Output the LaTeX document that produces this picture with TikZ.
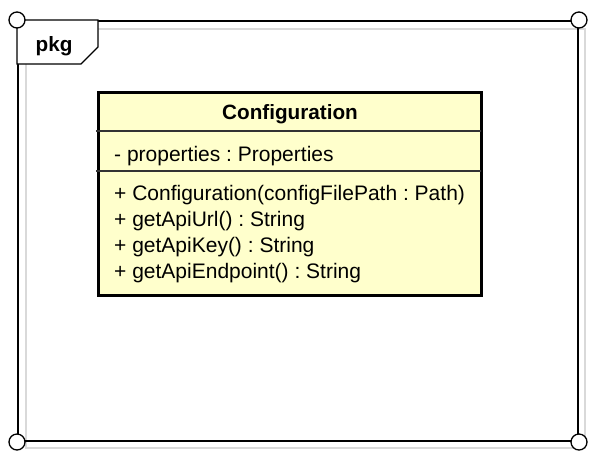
\documentclass[tikz,border=0pt]{standalone}
\usepackage{fontspec}
\setmainfont{Liberation Sans}
\frenchspacing
\definecolor{classfill}{HTML}{FFFFCC}
\definecolor{shadowgray}{HTML}{D9D9D9}
\tikzset{
  frameline/.style={draw=black, line width=2pt},
  shadowline/.style={draw=shadowgray, line width=2pt},
  cornerdot/.style={circle, draw=black, line width=1.3pt, fill=white, minimum size=16pt, inner sep=0pt},
  tabshape/.style={draw=black, line width=1.3pt, fill=white},
  classbox/.style={draw=black, line width=3pt, fill=classfill},
  divider/.style={draw=black!80, line width=1.2pt},
  txt/.style={font=\fontsize{21}{24}\selectfont, inner sep=0pt, anchor=base west},
  ttl/.style={font=\fontsize{20.7}{24}\selectfont\bfseries, inner sep=0pt, anchor=base},
}
\begin{document}
\begin{tikzpicture}[x=1pt,y=-1pt]
\useasboundingbox (0,0) rectangle (596,459);
% shadow outline
\draw[shadowline] (26,29) rectangle (585,448);
% package frame
\node[frameline, anchor=north west, minimum width=560pt, minimum height=420pt, inner sep=0pt] (pkgframe) at (17,20) {};
% tab
\draw[tabshape] (17,20) -- (98,20) -- (98,47) -- (81,64) -- (17,64) -- cycle;
\node[font=\fontsize{20.7}{24}\selectfont\bfseries, inner sep=0pt, anchor=base west] (pkglabel) at (35.5,51) {pkg};
% corners
\node[cornerdot] (cnw) at (pkgframe.north west) {};
\node[cornerdot] (cne) at (pkgframe.north east) {};
\node[cornerdot] (csw) at (pkgframe.south west) {};
\node[cornerdot] (cse) at (pkgframe.south east) {};
% class box
\draw[classbox] (98.5,92) rectangle (481.5,295.5);
\coordinate (d1l) at (96,131);
\coordinate (d1r) at (481,131);
\coordinate (d2l) at (96,171);
\coordinate (d2r) at (481,171);
\draw[divider] (d1l) -- (d1r);
\draw[divider] (d2l) -- (d2r);
\node[ttl] (title) at (290,119.5) {Configuration};
\node[txt] (attr) at (114,161) {- properties : Properties};
\node[txt] (op1) at (114,200.7) {+ Configuration(configFilePath : Path)};
\node[txt] (op2) at (114,226.6) {+ getApiUrl() : String};
\node[txt] (op3) at (114,252.5) {+ getApiKey() : String};
\node[txt] (op4) at (114,278.4) {+ getApiEndpoint() : String};
\end{tikzpicture}
\end{document}
